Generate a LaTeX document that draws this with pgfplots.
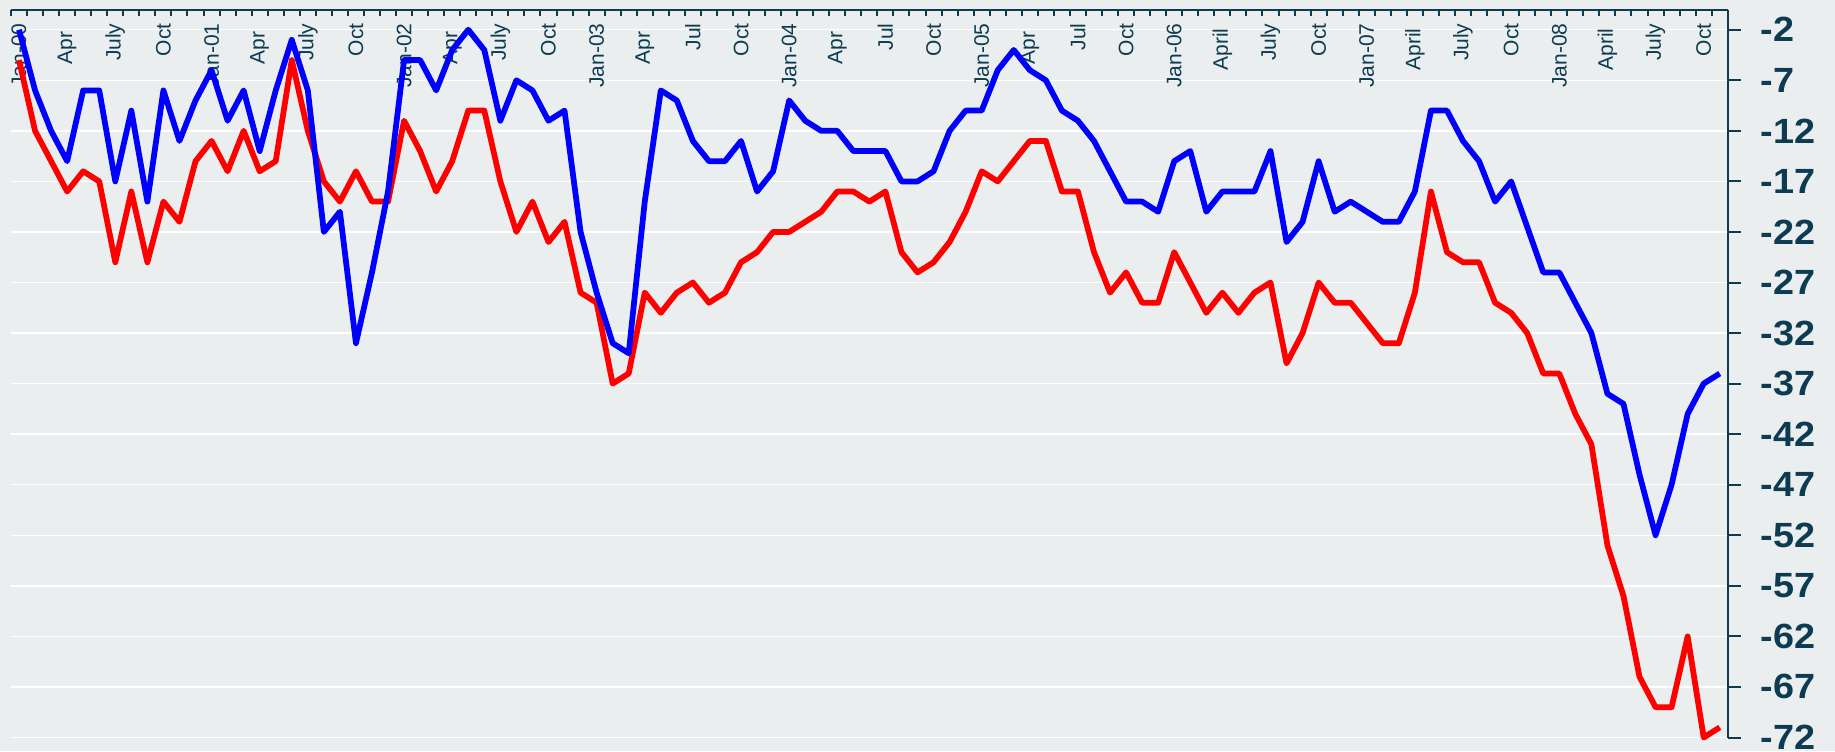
\documentclass[border=0pt]{standalone}
\usepackage{pgfplots}
\usepackage{pgfplotstable}
\pgfplotsset{compat=1.18}
\usepackage{fontspec}
\setmainfont{Liberation Sans}
\definecolor{bg}{RGB}{234,238,239}
\definecolor{navy}{RGB}{12,59,82}

\pgfplotstableread{
i b r
0 -2 -5
1 -8 -12
2 -12 -15
3 -15 -18
4 -8 -16
5 -8 -17
6 -17 -25
7 -10 -18
8 -19 -25
9 -8 -19
10 -13 -21
11 -9 -15
12 -6 -13
13 -11 -16
14 -8 -12
15 -14 -16
16 -8 -15
17 -3 -5
18 -8 -12
19 -22 -17
20 -20 -19
21 -33 -16
22 -26 -19
23 -18 -19
24 -5 -11
25 -5 -14
26 -8 -18
27 -4 -15
28 -2 -10
29 -4 -10
30 -11 -17
31 -7 -22
32 -8 -19
33 -11 -23
34 -10 -21
35 -22 -28
36 -28 -29
37 -33 -37
38 -34 -36
39 -19 -28
40 -8 -30
41 -9 -28
42 -13 -27
43 -15 -29
44 -15 -28
45 -13 -25
46 -18 -24
47 -16 -22
48 -9 -22
49 -11 -21
50 -12 -20
51 -12 -18
52 -14 -18
53 -14 -19
54 -14 -18
55 -17 -24
56 -17 -26
57 -16 -25
58 -12 -23
59 -10 -20
60 -10 -16
61 -6 -17
62 -4 -15
63 -6 -13
64 -7 -13
65 -10 -18
66 -11 -18
67 -13 -24
68 -16 -28
69 -19 -26
70 -19 -29
71 -20 -29
72 -15 -24
73 -14 -27
74 -20 -30
75 -18 -28
76 -18 -30
77 -18 -28
78 -14 -27
79 -23 -35
80 -21 -32
81 -15 -27
82 -20 -29
83 -19 -29
84 -20 -31
85 -21 -33
86 -21 -33
87 -18 -28
88 -10 -18
89 -10 -24
90 -13 -25
91 -15 -25
92 -19 -29
93 -17 -30
94 -21.5 -32
95 -26 -36
96 -26 -36
97 -29 -40
98 -32 -43
99 -38 -53
100 -39 -58
101 -46 -66
102 -52 -69
103 -47 -69
104 -40 -62
105 -37 -72
106 -36 -71
}\data

\pgfplotsset{
  common/.style={
    at={(0,0)}, anchor=south west,
    scale only axis, width=686.7pt, height=291.2pt,
    xmin=-0.5, xmax=106.5, ymin=-72, ymax=0,
    clip=false,
    axis x line*=top, axis y line*=right,
    axis line style={-, draw=navy, line width=0.8pt},
    tick style={navy, line width=0.8pt},
    ytick={-72,-67,-62,-57,-52,-47,-42,-37,-32,-27,-22,-17,-12,-7,-2},
  }
}
\newcommand{\Ap}{Apr\hspace*{3.2pt}}
\newcommand{\Apl}{April\hspace*{2pt}}

\begin{document}
\begin{tikzpicture}
\fill[bg] (-4.4pt,-5.4pt) rectangle (729.6pt,295.0pt);
% axis A: grid, month ticks and month labels (below the data lines)
\begin{axis}[common,
  tick align=inside,
  major tick length=0pt,
  minor tick length=2.4pt,
  minor xtick={-0.5,0.5,...,106.5},
  xtick={0,3,...,105},
  xticklabels={Jan-00,\Ap,July,Oct,Jan-01,\Ap,July,Oct,Jan-02,\Ap,July,Oct,Jan-03,\Ap,Jul,Oct,Jan-04,\Ap,Jul,Oct,Jan-05,\Ap,Jul,Oct,Jan-06,\Apl,July,Oct,Jan-07,\Apl,July,Oct,Jan-08,\Apl,July,Oct},
  xticklabel shift=-5.4pt,
  xticklabel style={rotate=90, anchor=east, inner sep=0pt, text=navy, font=\fontsize{8.4pt}{8.4pt}\selectfont},
  yticklabels={},
  ymajorgrids,
  grid style={white, line width=0.6pt},
]
\end{axis}
% axis B: data and value axis
\begin{axis}[common,
  tick align=outside,
  major tick length=5.2pt,
  xtick=\empty,
  yticklabels={-72,-67,-62,-57,-52,-47,-42,-37,-32,-27,-22,-17,-12,-7,-2},
  yticklabel style={anchor=west, inner sep=0pt, xshift=7.7pt, xscale=1.08, text=navy, font=\fontsize{14pt}{14pt}\selectfont\bfseries},
]
\addplot[red, line width=2.3pt, line join=round, no markers] table[x=i, y=r] {\data};
\addplot[blue, line width=2.3pt, line join=round, no markers] table[x=i, y=b] {\data};
\end{axis}
\pgfresetboundingbox
\path[use as bounding box] (-4.4pt,-5.4pt) rectangle (729.6pt,295.0pt);
\end{tikzpicture}
\end{document}
